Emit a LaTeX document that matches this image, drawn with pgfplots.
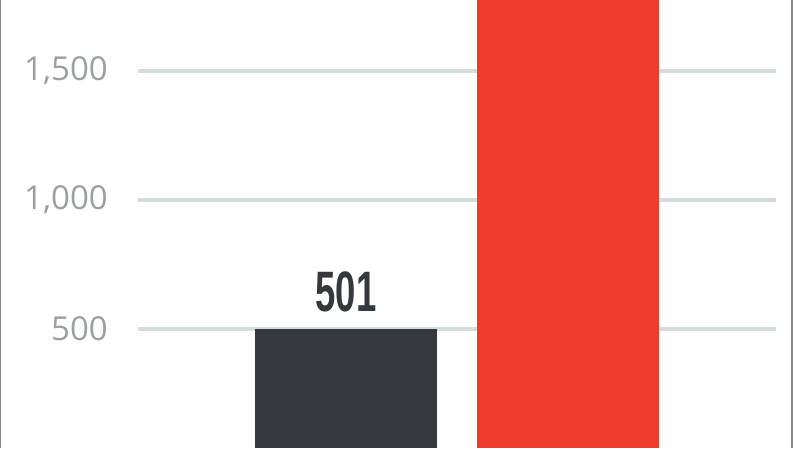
\documentclass[border=0pt]{standalone}
\usepackage{pgfplots}
\pgfplotsset{compat=1.18}
\usepackage{fontspec}
\setmainfont{Open Sans}
\newfontfamily\valuefont{Liberation Sans}

\definecolor{barDark}{HTML}{35383C}
\definecolor{barRed}{HTML}{EF3B2E}
\definecolor{gridGray}{HTML}{D5DCDC}
\definecolor{tickGray}{HTML}{9B9FA4}
\definecolor{frameGray}{HTML}{8A8A8A}

\begin{document}
\begin{tikzpicture}
  \useasboundingbox (0pt,0pt) rectangle (793pt,448pt);
  \clip (0pt,0pt) rectangle (793pt,448pt);
  \begin{axis}[
      at={(138pt,0pt)}, anchor=south west,
      width=638pt, height=448pt, scale only axis,
      xmin=0, xmax=638,
      ymin=38.8, ymax=1775,
      axis line style={draw=none},
      xtick=\empty,
      ytick={0,500,1000,1500},
      major tick length=0pt,
      ymajorgrids,
      grid style={line width=3.6pt, gridGray},
      yticklabel style={font=\fontsize{33}{36}\selectfont, text=tickGray,
        anchor=east, inner sep=0pt, xshift=-30pt},
      /pgf/number format/.cd, fixed, 1000 sep={,}, assume math mode=true,
      /pgfplots/.cd,
      ybar, bar width=182pt, bar shift=0pt,
    ]
    % grey bar, value 501
    \addplot[fill=barDark, draw=none] coordinates {(208,501)};
    % red bar, runs past the top of the crop
    \addplot[fill=barRed, draw=none] coordinates {(430,1900)};
    \node[anchor=south, inner sep=0pt, yshift=16.7pt, text=barDark]
      at (axis cs:208,501)
      {\scalebox{0.64}[1]{\valuefont\bfseries\fontsize{57}{60}\selectfont 501}};
  \end{axis}
  \draw[frameGray, line width=1.5pt] (0.5pt,0pt) -- (0.5pt,448pt);
  \draw[frameGray, line width=1.5pt] (791.8pt,0pt) -- (791.8pt,448pt);
\end{tikzpicture}
\end{document}
